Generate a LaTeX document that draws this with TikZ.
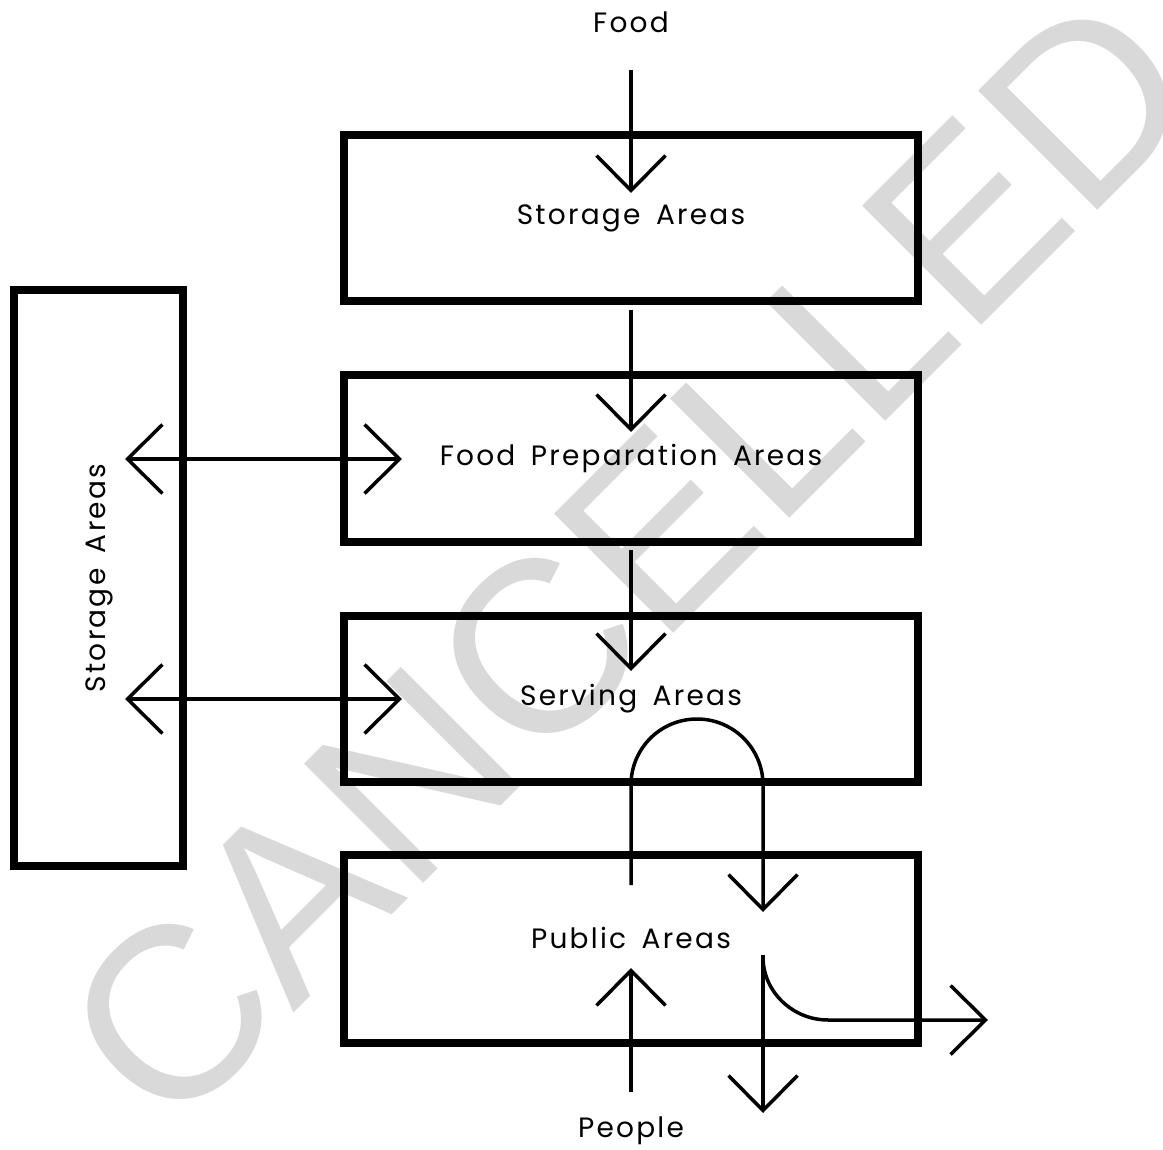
\documentclass[tikz,border=0pt]{standalone}
\usepackage{fontspec}
\setmainfont{Poppins}[LetterSpace=8, WordSpace=1.6]
\newfontfamily\wmfont{Liberation Sans}
\usetikzlibrary{arrows.meta}
\definecolor{wmgray}{RGB}{217,217,217}
\begin{document}
\begin{tikzpicture}[x=1pt,y=-1pt,
  box/.style={draw=black, line width=8pt, inner sep=0pt, outer sep=0pt, minimum width=574pt, minimum height=166pt},
  lbl/.style={anchor=base, inner sep=0pt, font=\fontsize{28}{34}\selectfont},
  tipb/.tip={Straight Barb[length=35pt,width=69pt]},
  conn/.style={line width=3.5pt, -tipb},
  dconn/.style={line width=3.5pt, tipb-tipb}]
\useasboundingbox (0,0) rectangle (1163,1150);
% watermark
\node[text=wmgray, font=\wmfont\fontsize{245}{245}\selectfont, rotate=45, inner sep=0pt] (wm) at (629,559) {CANCELLED};
% boxes
\node[box] (bstore) at (631,218) {};
\node[box] (bprep) at (631,458.5) {};
\node[box] (bserve) at (631,698.5) {};
\node[box, minimum height=188pt] (bpublic) at (631,949) {};
\node[box, minimum width=169pt, minimum height=576pt] (bside) at (98.5,578) {};
% labels
\node[lbl] (tfood) at (631,33) {Food};
\node[lbl] (tstore) at (631,225) {Storage Areas};
\node[lbl] (tprep) at (631,465) {Food Preparation Areas};
\node[lbl] (tserve) at (631,705) {Serving Areas};
\node[lbl] (tpublic) at (631,948) {Public Areas};
\node[lbl] (tpeople) at (631,1137) {People};
\node[lbl, rotate=90] (tside) at (105,578) {Storage Areas};
% connector coordinates
\coordinate (a1s) at (631,70);  \coordinate (a1e) at (631,193);
\coordinate (a2s) at (631,310); \coordinate (a2e) at (631,432);
\coordinate (a3s) at (631,550); \coordinate (a3e) at (631,671);
\coordinate (h1l) at (125,459); \coordinate (h1r) at (402,459);
\coordinate (h2l) at (125,699); \coordinate (h2r) at (402,699);
\coordinate (u1s) at (631,885); \coordinate (u1e) at (763,912);
\coordinate (p1s) at (631,1092); \coordinate (p1e) at (631,968);
\coordinate (d1s) at (763,955); \coordinate (d1e) at (763,1113);
\coordinate (r1e) at (988,1020);
% connectors
\draw[conn] (a1s) -- (a1e);
\draw[conn] (a2s) -- (a2e);
\draw[conn] (a3s) -- (a3e);
\draw[dconn] (h1l) -- (h1r);
\draw[dconn] (h2l) -- (h2r);
\draw[conn] (u1s) -- (631,785) .. controls (631,748.5) and (660.5,719) .. (697,719)
  .. controls (733.5,719) and (763,748.5) .. (763,785) -- (u1e);
\draw[conn] (p1s) -- (p1e);
\draw[conn] (d1s) -- (d1e);
\draw[conn] (763,957) .. controls (763,992) and (793,1020) .. (828,1020) -- (r1e);
\end{tikzpicture}
\end{document}
